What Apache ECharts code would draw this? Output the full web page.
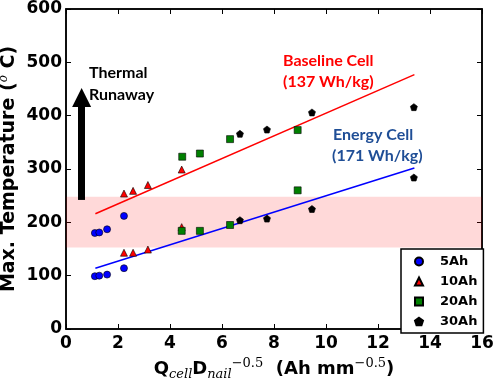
<!DOCTYPE html>
<html>
<head>
<meta charset="utf-8">
<script src="https://cdn.jsdelivr.net/npm/echarts@6/dist/echarts.min.js"></script>
<style>
  html, body { margin: 0; padding: 0; background: #fff; }
  #chart { width: 496px; height: 380px; }
</style>
</head>
<body>
<div id="chart"></div>
<script>
// x = Q_cell * D_nail^-0.5, y = max temperature
const ah5 = [[1.11, 180], [1.28, 181], [1.58, 187], [2.23, 212], [1.11, 99], [1.28, 100], [1.58, 102], [2.23, 114]];
const ah10 = [[2.23, 254], [2.58, 259], [3.15, 270], [4.45, 299], [4.45, 191], [2.23, 143], [2.58, 143], [3.15, 149]];
const ah20 = [[4.47, 323], [5.15, 329], [6.31, 356], [8.91, 373], [4.45, 184], [5.15, 184], [6.31, 195], [8.91, 260]];
const ah30 = [[6.69, 366], [7.73, 374], [9.46, 406], [13.38, 416], [6.69, 204], [7.73, 207], [9.46, 225], [13.38, 284]];

const fitX = [1.13, 13.4];
const baselineFit = [216, 477];
const energyFit = [114, 302];

const bandRange = [153, 248];
const arrowX = 0.6;
const arrowY = [242, 434];

const xTicks = [0, 16, 2];
const yTicks = [0, 600, 100];

const chart = echarts.init(document.getElementById('chart'));
const pentagon = 'path://M0,-1L0.951,-0.309L0.588,0.809L-0.588,0.809L-0.951,-0.309Z';
const annoFont = 'Lato, "Open Sans", sans-serif';

function pairs(xs, ys){
    return xs.map((x, i) => [x, ys[i]]);
}

function frameAxis(pos, isX){
    const r = isX ? xTicks : yTicks;
    return {
        type: 'value', position: pos, min: r[0], max: r[1], interval: r[2],
        axisLine: { show: true, onZero: false, lineStyle: { color: '#000', width: 1.5 } },
        axisTick: { show: true, inside: true, length: 5, lineStyle: { color: '#000', width: 1 } },
        axisLabel: { show: false },
        splitLine: { show: false }
    };
}

const option = {
    animation: false,
    backgroundColor: '#fff',
    grid: {
        left: 66, right: 14, top: 9, bottom: 51, outerBoundsMode: 'none', containLabel: false,
        show: true, borderColor: '#000', borderWidth: 1.5, backgroundColor: 'transparent'
    },
    xAxis: [
        {
            type: 'value', min: xTicks[0], max: xTicks[1], interval: xTicks[2],
            axisLine: { onZero: false, lineStyle: { color: '#000', width: 1.5 } },
            axisTick: { inside: true, length: 5, lineStyle: { color: '#000', width: 1 } },
            axisLabel: { color: '#000', fontSize: 17, fontWeight: 'bold', fontFamily: 'DejaVu Sans', margin: 6 },
            splitLine: { show: false },
            name: '{b|Q}{sub|cell}{b|D}{sub|nail}{sup|\u22120.5}{b|  (Ah mm}{sup|\u22120.5}{b|)}',
            nameLocation: 'middle',
            nameGap: 28,
            nameTextStyle: {
                rich: {
                    b: { fontSize: 18, fontWeight: 'bold', fontFamily: 'DejaVu Sans', color: '#000', lineHeight: 24, verticalAlign: 'middle' },
                    sub: { fontSize: 13, fontStyle: 'italic', fontFamily: 'DejaVu Serif', color: '#000', verticalAlign: 'bottom', lineHeight: 24, padding: [10, 0, 0, 0] },
                    sup: { fontSize: 13, fontFamily: 'DejaVu Serif', color: '#000', verticalAlign: 'top', lineHeight: 24, padding: [0, 0, 8, 0] }
                }
            }
        },
        frameAxis('top', true)
    ],
    yAxis: [
        {
            type: 'value', min: yTicks[0], max: yTicks[1], interval: yTicks[2],
            axisLine: { show: true, onZero: false, lineStyle: { color: '#000', width: 1.5 } },
            axisTick: { show: true, inside: true, length: 5, lineStyle: { color: '#000', width: 1 } },
            axisLabel: { color: '#000', fontSize: 17, fontWeight: 'bold', fontFamily: 'DejaVu Sans', margin: 4 },
            splitLine: { show: false },
            name: '{b|Max. Temperature (}{sup|o}{b| C)}',
            nameLocation: 'middle',
            nameGap: 46,
            nameMoveOverlap: false,
            nameTextStyle: {
                rich: {
                    b: { fontSize: 19, fontWeight: 'bold', fontFamily: 'DejaVu Sans', color: '#000', lineHeight: 22 },
                    sup: { fontSize: 12, fontStyle: 'italic', fontFamily: 'DejaVu Serif', color: '#000', verticalAlign: 'top', lineHeight: 22 }
                }
            }
        },
        frameAxis('right', false)
    ],
    legend: {
        orient: 'vertical',
        left: 401, top: 249,
        width: 76,
        padding: [6, 6, 5, 13],
        itemGap: 7,
        itemWidth: 8, itemHeight: 8,
        borderColor: '#000', borderWidth: 1.5, borderRadius: 0,
        backgroundColor: '#fff',
        textStyle: { color: '#000', fontSize: 13, fontWeight: 'bold', fontFamily: 'DejaVu Sans', padding: [0, 0, 0, 12] },
        data: ['5Ah', '10Ah', '20Ah', '30Ah']
    },
    graphic: [
        { type: 'text', left: 89, top: 65, style: { text: 'Thermal', fontSize: 16, fontWeight: 'bold', fontFamily: annoFont, fill: '#000' } },
        { type: 'text', left: 89, top: 87, style: { text: 'Runaway', fontSize: 16, fontWeight: 'bold', fontFamily: annoFont, fill: '#000' } },
        { type: 'text', left: 283, top: 53, style: { text: 'Baseline Cell', fontSize: 16, fontWeight: 'bold', fontFamily: annoFont, fill: '#ff0000' } },
        { type: 'text', left: 283, top: 74, style: { text: '(137 Wh/kg)', fontSize: 16, fontWeight: 'bold', fontFamily: annoFont, fill: '#ff0000' } },
        { type: 'text', left: 333, top: 127, style: { text: 'Energy Cell', fontSize: 16, fontWeight: 'bold', fontFamily: annoFont, fill: '#1f4e96' } },
        { type: 'text', left: 332, top: 148, style: { text: '(171 Wh/kg)', fontSize: 16, fontWeight: 'bold', fontFamily: annoFont, fill: '#1f4e96' } }
    ],
    series: [
        {
            name: 'frame', type: 'scatter', data: [], silent: true, xAxisIndex: 1, yAxisIndex: 1
        },
        {
            name: 'band', type: 'line', data: [], silent: true,
            markArea: {
                silent: true,
                itemStyle: { color: 'rgba(255,0,0,0.15)' },
                data: [[{ yAxis: bandRange[0] }, { yAxis: bandRange[1] }]]
            },
            markLine: {
                silent: true,
                symbol: ['none', 'triangle'],
                symbolSize: [19, 19],
                label: { show: false },
                lineStyle: { color: '#000', width: 7, type: 'solid' },
                data: [[{ coord: [arrowX, arrowY[0]] }, { coord: [arrowX, arrowY[1]] }]]
            }
        },
        {
            name: 'baseline fit', type: 'line', data: pairs(fitX, baselineFit), showSymbol: false, silent: true,
            lineStyle: { color: '#ff0000', width: 1.5 }, z: 3
        },
        {
            name: 'energy fit', type: 'line', data: pairs(fitX, energyFit), showSymbol: false, silent: true,
            lineStyle: { color: '#0000ff', width: 1.5 }, z: 3
        },
        {
            name: '5Ah', type: 'scatter', data: ah5, symbol: 'circle', symbolSize: 7, z: 5,
            itemStyle: { color: '#0000ff', borderColor: '#000', borderWidth: 0.6, opacity: 1 }
        },
        {
            name: '10Ah', type: 'scatter', data: ah10, symbol: 'triangle', symbolSize: 7, z: 5,
            itemStyle: { color: '#ff0000', borderColor: '#000', borderWidth: 0.6, opacity: 1 }
        },
        {
            name: '20Ah', type: 'scatter', data: ah20, symbol: 'rect', symbolSize: 7, z: 5,
            itemStyle: { color: '#008000', borderColor: '#000', borderWidth: 0.6, opacity: 1 }
        },
        {
            name: '30Ah', type: 'scatter', data: ah30, symbol: pentagon, symbolSize: 7, z: 5,
            itemStyle: { color: '#000', borderColor: '#000', borderWidth: 0.6, opacity: 1 }
        }
    ]
};

chart.setOption(option);
</script>
</body>
</html>
